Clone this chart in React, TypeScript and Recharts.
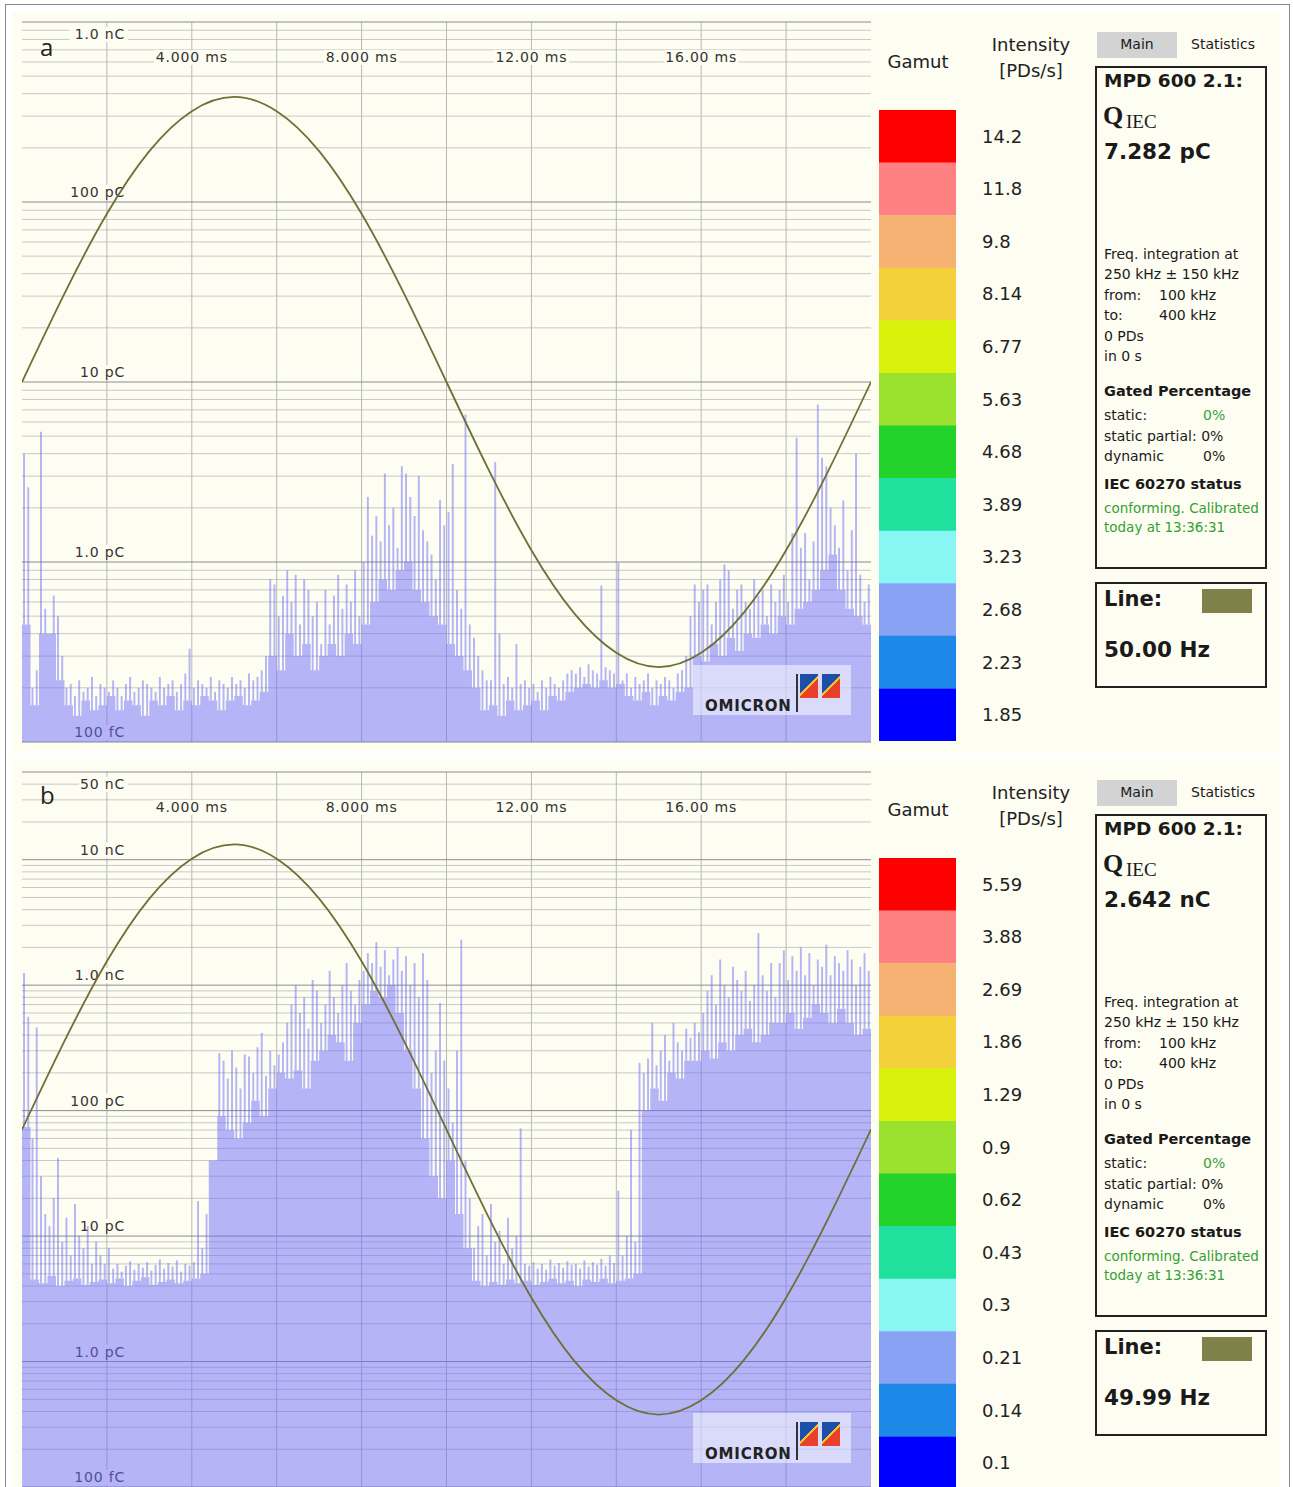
import React from 'react';
import {
  ComposedChart, BarChart, Bar, Area, Line, XAxis, YAxis, CartesianGrid, ReferenceLine, Cell,
} from 'recharts';

const IVORY = '#fdfdf2';
const PD_FILL = '#6b6bf9';
const SINE = '#6f6f36';
const SANS = '"DejaVu Sans", sans-serif';

// phase window (ms)
const gridMs = [2, 4, 6, 8, 10, 12, 14, 16, 18];
const labelMs = [4, 8, 12, 16];
const msLabels = ['4.000 ms', '8.000 ms', '12.00 ms', '16.00 ms'];

// charge axis decades in pC
const decadesA = [0.1, 1, 10, 100, 1000];
const decadeLabelsA = ['100 fC', '1.0 pC', '10 pC', '100 pC', '1.0 nC'];
const decadesB = [0.1, 1, 10, 100, 1000, 10000, 50000];
const decadeLabelsB = ['100 fC', '1.0 pC', '10 pC', '100 pC', '1.0 nC', '10 nC', '50 nC'];

// line voltage reference, normalised, one value per ms (0..20 ms)
const lineVoltage = [
  0, 0.31, 0.59, 0.81, 0.95, 1, 0.95, 0.81, 0.59, 0.31,
  0, -0.31, -0.59, -0.81, -0.95, -1, -0.95, -0.81, -0.59, -0.31, 0,
];

// panel a: noise floor per 0.2 ms (pC)
const floorA = [
  0.45, 0.16, 0.4, 0.4, 0.22, 0.16, 0.14, 0.17, 0.15, 0.16,
  0.18, 0.15, 0.17, 0.16, 0.14, 0.17, 0.16, 0.18, 0.15, 0.17,
  0.16, 0.18, 0.17, 0.15, 0.17, 0.18, 0.16, 0.17, 0.19, 0.3,
  0.25, 0.4, 0.3, 0.35, 0.25, 0.3, 0.35, 0.3, 0.4, 0.35,
  0.45, 0.6, 0.8, 0.7, 0.9, 1.0, 0.7, 0.6, 0.5, 0.45,
  0.35, 0.3, 0.25, 0.2, 0.15, 0.16, 0.14, 0.17, 0.15, 0.16,
  0.17, 0.15, 0.18, 0.17, 0.19, 0.2, 0.21, 0.2, 0.22, 0.2,
  0.21, 0.18, 0.17, 0.19, 0.16, 0.18, 0.17, 0.19, 0.2, 0.3,
  0.28, 0.35, 0.3, 0.38, 0.32, 0.4, 0.38, 0.45, 0.4, 0.5,
  0.45, 0.55, 0.6, 0.7, 0.9, 1.1, 0.7, 0.55, 0.5, 0.45,
];

// panel a: peak charge per 0.1 ms (pC)
const peaksA = [
  4.0, 2.6, 0.2, 0.25, 5.3, 0.55, 0.2, 0.65, 0.5, 0.3,
  0.2, 0.21, 0.18, 0.22, 0.19, 0.2, 0.23, 0.18, 0.21, 0.2,
  0.19, 0.22, 0.2, 0.18, 0.21, 0.23, 0.19, 0.2, 0.22, 0.21,
  0.2, 0.19, 0.23, 0.2, 0.21, 0.22, 0.19, 0.21, 0.24, 0.33,
  0.2, 0.22, 0.21, 0.2, 0.23, 0.19, 0.22, 0.21, 0.2, 0.23,
  0.21, 0.22, 0.2, 0.24, 0.22, 0.23, 0.25, 0.3, 0.8, 0.75,
  0.5, 0.65, 0.9, 0.6, 0.85, 0.45, 0.8, 0.7, 0.5, 0.6,
  0.35, 0.7, 0.45, 0.65, 0.85, 0.55, 0.75, 0.6, 0.9, 0.5,
  1.0, 2.3, 1.4, 1.8, 1.3, 3.1, 1.6, 2.0, 1.2, 3.4,
  3.1, 2.3, 1.8, 3.0, 1.5, 1.3, 1.1, 0.8, 2.2, 1.6,
  1.9, 3.5, 0.7, 0.55, 6.6, 0.45, 0.38, 0.3, 0.25, 0.22,
  0.22, 3.6, 0.4, 0.21, 0.23, 0.2, 0.35, 0.21, 0.22, 0.2,
  0.21, 0.19, 0.22, 0.2, 0.23, 0.21, 0.2, 0.22, 0.24, 0.25,
  0.24, 0.26, 0.23, 0.27, 0.25, 0.24, 0.74, 0.26, 0.25, 0.24,
  0.99, 0.22, 0.24, 0.2, 0.23, 0.21, 0.22, 0.24, 0.2, 0.22,
  0.21, 0.23, 0.22, 0.2, 0.24, 0.25, 0.3, 0.5, 0.75, 0.6,
  0.7, 0.75, 0.45, 0.6, 0.8, 0.97, 0.9, 0.55, 0.7, 0.75,
  0.6, 0.55, 0.8, 0.65, 0.7, 0.5, 0.75, 0.6, 0.7, 0.85,
  0.6, 1.45, 4.9, 1.2, 1.45, 0.8, 1.3, 7.5, 3.8, 3.4,
  2.0, 1.6, 1.2, 2.2, 0.9, 1.5, 4.0, 0.85, 0.6, 0.75,
];

// panel b: noise floor per 0.2 ms (pC)
const floorB = [
  74, 4.5, 4.2, 4.8, 4.0, 4.4, 4.6, 4.1, 4.3, 4.5,
  4.2, 4.6, 4.0, 4.4, 4.7, 4.1, 4.3, 4.5, 4.2, 4.4,
  4.6, 5.0, 40, 90, 70, 60, 80, 120, 90, 150,
  200, 180, 210, 150, 250, 300, 400, 350, 250, 500,
  700, 900, 800, 1000, 600, 300, 150, 60, 30, 20,
  40, 15, 8, 4.4, 4.0, 4.3, 4.1, 4.5, 4.2, 4.4,
  4.1, 4.3, 4.6, 4.2, 4.4, 4.0, 4.5, 4.3, 4.6, 4.2,
  4.4, 4.6, 5.0, 100, 150, 120, 200, 180, 250, 250,
  300, 260, 350, 300, 400, 450, 350, 400, 500, 500,
  600, 450, 550, 700, 600, 500, 650, 500, 400, 450,
];

// panel b: peak charge per 0.1 ms (pC)
const peaksB = [
  1250, 560, 60, 460, 30, 15, 12, 20, 42, 9,
  14, 7, 18, 10, 8, 12, 6, 9, 7, 6,
  8, 5.5, 6.0, 5.2, 5.8, 6.3, 5.4, 6.0, 5.6, 6.2,
  5.3, 5.9, 6.5, 5.5, 6.1, 5.7, 6.4, 5.2, 6.0, 5.8,
  6.2, 19, 8, 15, 10, 30, 287, 250, 180, 300,
  220, 150, 280, 270, 200, 320, 416, 190, 300, 230,
  280, 350, 500, 700, 1000, 600, 800, 450, 1100, 900,
  500, 700, 1300, 800, 600, 1000, 1500, 900, 700, 1100,
  1300, 1800, 1500, 2200, 1400, 1900, 1200, 1600, 2000, 1300,
  1700, 1000, 1500, 800, 1800, 1100, 200, 300, 720, 250,
  150, 80, 300, 2300, 40, 20, 8, 12, 15, 7,
  18, 9, 11, 6, 14, 8, 10, 72, 6, 5.8,
  6.2, 5.5, 6.0, 5.4, 6.5, 5.8, 6.1, 5.6, 6.3, 5.9,
  6.0, 5.5, 6.4, 5.7, 6.2, 5.9, 6.6, 5.8, 7, 6.1,
  23, 7, 10, 70, 9, 240, 200, 260, 500, 230,
  300, 400, 250, 500, 350, 300, 450, 380, 500, 420,
  600, 900, 1200, 700, 1600, 1000, 800, 1400, 1100, 900,
  1300, 750, 1000, 2600, 1200, 900, 1500, 800, 1500, 1900,
  1100, 1700, 1300, 2000, 1200, 1800, 1000, 1600, 1400, 2100,
  1200, 1700, 1500, 1300, 1900, 1600, 1000, 1400, 1800, 1300,
];

// gamut legend
const gamutColors = [
  '#ff0000', '#ff8080', '#f6b272', '#f4d13a', '#d9f20c', '#9be22e',
  '#24d22c', '#20e09e', '#88f6f2', '#8aa2f4', '#1e88e8', '#0000ff',
];
const intensityA = ['14.2', '11.8', '9.8', '8.14', '6.77', '5.63', '4.68', '3.89', '3.23', '2.68', '2.23', '1.85'];
const intensityB = ['5.59', '3.88', '2.69', '1.86', '1.29', '0.9', '0.62', '0.43', '0.3', '0.21', '0.14', '0.1'];

const BIN_MS = 0.1;

function buildRows(floor: number[], peaks: number[]) {
  const rows: any[] = peaks.map((p, i) => {
    const f = floor[Math.floor(i / 2)];
    return { t: Math.round((BIN_MS * i + BIN_MS / 2) * 100) / 100, floor: f, spike: [f, Math.max(f, p)] };
  });
  return [{ t: 0, floor: floor[0] }, ...rows, { t: 20, floor: floor[floor.length - 1] }];
}

function minorTicks(max: number) {
  const out: number[] = [];
  [0.1, 1, 10, 100, 1000, 10000].forEach((d) => {
    for (let k = 2; k <= 9; k++) if (d * k < max) out.push(Math.round(d * k * 10) / 10);
  });
  return out;
}

const sineRows = lineVoltage.map((v, i) => ({ t: i, v }));

const T = ({ x, y, size = 14, bold = false, color = '#1a1a1a', family = SANS, center = false, spacing = 0, children }: any) => (
  <div
    style={{
      position: 'absolute',
      left: center ? x - 150 : x,
      width: center ? 300 : undefined,
      textAlign: center ? 'center' : 'left',
      top: y - size * 0.7,
      fontSize: size,
      lineHeight: `${size * 1.4}px`,
      fontWeight: bold ? 700 : 400,
      color,
      fontFamily: family,
      letterSpacing: spacing,
      whiteSpace: 'nowrap',
    }}
  >
    {children}
  </div>
);

const PrpdChart = ({ dy, plotTop, plotH, qMax, decades, decadeLabels, floor, peaks, vMax }: any) => {
  const rows = buildRows(floor, peaks);
  const minor = minorTicks(qMax);
  const allTicks = [...decades, ...minor].sort((a, b) => a - b);
  const size = { width: 880, height: plotTop + plotH + 20 };
  const margin = { top: plotTop, right: 9, bottom: 20, left: 22 };

  const qTick = (p: any) => {
    const idx = decades.indexOf(p.payload.value);
    if (idx < 0) return <g />;
    const label = decadeLabels[idx];
    const by = p.payload.value === qMax ? p.y + 17 : p.y - 5;
    const w = label.length * 9.4;
    return (
      <g>
        <rect x={126 - w} y={by - 12} width={w + 2} height={15} fill={IVORY} />
        <text x={125} y={by} textAnchor="end" fontSize={14} letterSpacing={0.8} fontFamily={SANS} fill="#333">
          {label}
        </text>
      </g>
    );
  };

  const tTick = (p: any) => {
    const idx = labelMs.indexOf(p.payload.value);
    if (idx < 0) return <g />;
    const label = msLabels[idx];
    const by = plotTop + 40;
    const w = label.length * 9.4;
    return (
      <g>
        <rect x={p.x - w / 2} y={by - 12} width={w} height={15} fill={IVORY} />
        <text x={p.x} y={by} textAnchor="middle" fontSize={14} letterSpacing={0.8} fontFamily={SANS} fill="#333">
          {label}
        </text>
      </g>
    );
  };

  return (
    <>
      {/* grid and axis labels underneath */}
      <div style={{ position: 'absolute', left: 0, top: dy }}>
        <ComposedChart {...size} data={rows} margin={margin}>
          <CartesianGrid yAxisId="q" horizontal vertical={false} horizontalValues={minor} stroke="#c8c8c8" />
          <CartesianGrid yAxisId="q" horizontal={false} vertical verticalValues={gridMs} stroke="#b8b8b8" />
          {decades.map((d: number) => (
            <ReferenceLine key={d} yAxisId="q" y={d} stroke="#8c8c8c" />
          ))}
          <XAxis
            dataKey="t" type="number" domain={[0, 20]} allowDataOverflow ticks={labelMs} interval={0}
            orientation="top" mirror axisLine={false} tickLine={false} tick={tTick}
          />
          <YAxis
            yAxisId="q" type="number" scale="log" domain={[0.1, qMax]} allowDataOverflow ticks={allTicks} interval={0}
            mirror axisLine={false} tickLine={false} tick={qTick}
          />
        </ComposedChart>
      </div>
      {/* PD pulses and line voltage on top, semi-transparent */}
      <div style={{ position: 'absolute', left: 0, top: dy }}>
        <ComposedChart {...size} data={rows} margin={margin}>
          <XAxis dataKey="t" type="number" domain={[0, 20]} allowDataOverflow hide />
          <YAxis yAxisId="q" type="number" scale="log" domain={[0.1, qMax]} allowDataOverflow hide />
          <YAxis yAxisId="v" type="number" domain={[-vMax, vMax]} allowDataOverflow hide />
          <Area yAxisId="q" dataKey="floor" type="step" stroke="none" fill={PD_FILL} fillOpacity={0.5} isAnimationActive={false} />
          <Bar yAxisId="q" dataKey="spike" barSize={2.8} fill={PD_FILL} fillOpacity={0.5} isAnimationActive={false} />
          <Line
            yAxisId="v" data={sineRows} dataKey="v" type="natural" stroke={SINE} strokeWidth={1.8}
            dot={false} activeDot={false} isAnimationActive={false}
          />
        </ComposedChart>
      </div>
    </>
  );
};

const GamutBar = ({ top, labels }: any) => {
  const rows = labels.map((label: string, i: number) => ({ label, span: 1, color: gamutColors[i] }));
  return (
    <div style={{ position: 'absolute', left: 860, top }}>
      <BarChart width={200} height={631} data={rows} layout="vertical" barCategoryGap={0} margin={{ top: 0, right: 0, bottom: 0, left: 19 }}>
        <XAxis type="number" domain={[0, 1]} hide />
        <YAxis
          type="category" dataKey="label" orientation="right" width={104} interval={0}
          axisLine={false} tickLine={false} tickSize={0} tickMargin={26}
          tick={{ fill: '#222', fontSize: 18, fontFamily: 'DejaVu Sans' }}
        />
        <Bar dataKey="span" isAnimationActive={false}>
          {rows.map((r: any) => (
            <Cell key={r.label} fill={r.color} />
          ))}
        </Bar>
      </BarChart>
    </div>
  );
};

const Logo = ({ dy }: any) => (
  <>
    <div style={{ position: 'absolute', left: 693, top: 665 + dy, width: 158, height: 50, background: 'rgba(255,255,255,0.5)' }} />
    <T x={705} y={706 + dy} size={15} bold spacing={0.8} color="#222">OMICRON</T>
    <div style={{ position: 'absolute', left: 796, top: 674 + dy, width: 2, height: 38, background: '#333' }} />
    {[800, 822].map((x) => (
      <div
        key={x}
        style={{
          position: 'absolute', left: x, top: 674 + dy, width: 18, height: 24,
          background: 'linear-gradient(135deg, #1d4fa8 0%, #1d4fa8 47%, #f1c232 47%, #f1c232 53%, #e8402a 53%, #e8402a 100%)',
        }}
      />
    ))}
  </>
);

const SidePanel = ({ dy, charge, freq }: any) => (
  <>
    <T x={918} y={62 + dy} size={18} center color="#222">Gamut</T>
    <T x={1031} y={45 + dy} size={18} center color="#222">Intensity</T>
    <T x={1031} y={71 + dy} size={18} center color="#222">[PDs/s]</T>

    <div style={{ position: 'absolute', left: 1097, top: 32 + dy, width: 80, height: 26, background: '#d3d3d3' }} />
    <T x={1137} y={45 + dy} size={14} center>Main</T>
    <T x={1223} y={45 + dy} size={14} center>Statistics</T>

    <div style={{ position: 'absolute', left: 1095, top: 66 + dy, width: 172, height: 503, border: '2px solid #222', boxSizing: 'border-box' }} />
    <T x={1104} y={81 + dy} size={18.5} bold>MPD 600 2.1:</T>
    <T x={1103} y={116 + dy} size={26} bold family='"Liberation Serif", serif'>Q</T>
    <T x={1126} y={122 + dy} size={19} family='"Liberation Serif", serif'>IEC</T>
    <T x={1104} y={152 + dy} size={21.5} bold>{charge}</T>

    <T x={1104} y={255 + dy}>Freq. integration at</T>
    <T x={1104} y={275 + dy}>250 kHz ± 150 kHz</T>
    <T x={1104} y={296 + dy}>from:</T>
    <T x={1159} y={296 + dy}>100 kHz</T>
    <T x={1104} y={316 + dy}>to:</T>
    <T x={1159} y={316 + dy}>400 kHz</T>
    <T x={1104} y={337 + dy}>0 PDs</T>
    <T x={1104} y={357 + dy}>in 0 s</T>

    <T x={1104} y={391 + dy} size={14.5} bold>Gated Percentage</T>
    <T x={1104} y={416 + dy}>static:</T>
    <T x={1203} y={416 + dy} color="#3aa03a">0%</T>
    <T x={1104} y={437 + dy}>static partial: 0%</T>
    <T x={1104} y={457 + dy}>dynamic</T>
    <T x={1203} y={457 + dy}>0%</T>
    <T x={1104} y={484 + dy} size={14.5} bold>IEC 60270 status</T>
    <T x={1104} y={508 + dy} size={13.5} color="#34a034">conforming. Calibrated</T>
    <T x={1104} y={527 + dy} size={13.5} color="#34a034">today at 13:36:31</T>

    <div style={{ position: 'absolute', left: 1095, top: 582 + dy, width: 172, height: 106, border: '2px solid #222', boxSizing: 'border-box' }} />
    <T x={1104} y={600 + dy} size={21} bold>Line:</T>
    <div style={{ position: 'absolute', left: 1202, top: 589 + dy, width: 50, height: 24, background: '#80804a' }} />
    <T x={1104} y={650 + dy} size={21.5} bold>{freq}</T>
  </>
);

export default function App() {
  return (
    <div style={{ position: 'absolute', left: 0, top: 0, width: 1293, height: 1487, background: '#fff', overflow: 'hidden', fontFamily: SANS }}>
      <div style={{ position: 'absolute', left: 5, top: 4, width: 1283, height: 1500, border: '1px solid #888' }} />
      <div style={{ position: 'absolute', left: 12, top: 12, width: 1268, height: 741, background: IVORY }} />
      <div style={{ position: 'absolute', left: 12, top: 760, width: 1268, height: 730, background: IVORY }} />

      <PrpdChart dy={0} plotTop={22} plotH={720} qMax={1000} decades={decadesA} decadeLabels={decadeLabelsA} floor={floorA} peaks={peaksA} vMax={1.263} />
      <PrpdChart dy={748} plotTop={24} plotH={715} qMax={50000} decades={decadesB} decadeLabels={decadeLabelsB} floor={floorB} peaks={peaksB} vMax={1.254} />

      <Logo dy={0} />
      <Logo dy={748} />

      <T x={40} y={47} size={24} family='"Open Sans", sans-serif' color="#222">a</T>
      <T x={40} y={795} size={24} family='"Open Sans", sans-serif' color="#222">b</T>

      <GamutBar top={110} labels={intensityA} />
      <GamutBar top={858} labels={intensityB} />

      <SidePanel dy={0} charge="7.282 pC" freq="50.00 Hz" />
      <SidePanel dy={748} charge="2.642 nC" freq="49.99 Hz" />
    </div>
  );
}
